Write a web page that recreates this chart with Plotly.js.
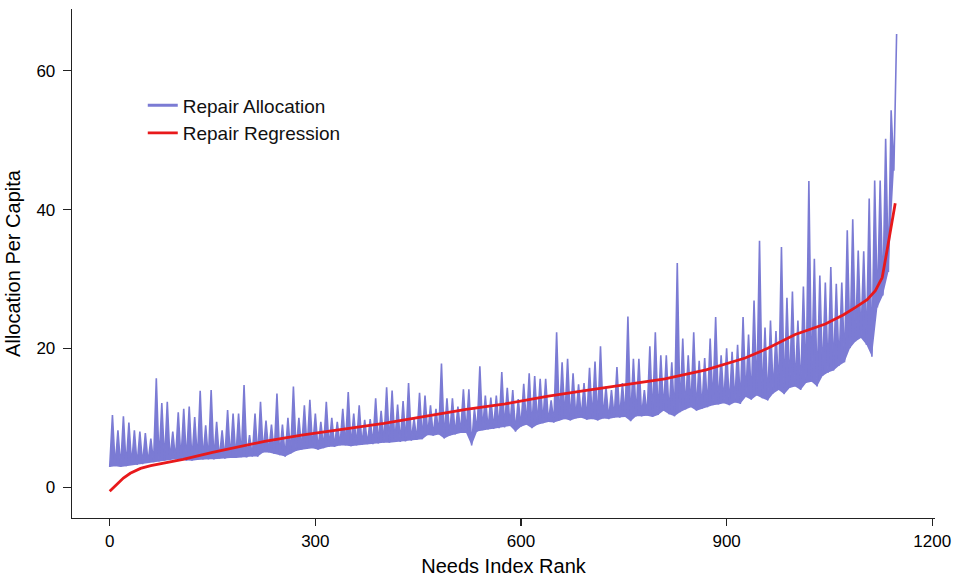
<!DOCTYPE html>
<html>
<head>
<meta charset="utf-8">
<script src="https://cdn.plot.ly/plotly-3.0.1.min.js"></script>
<style>html,body{margin:0;padding:0;background:#fff}#chart{width:958px;height:579px}</style>
</head>
<body>
<div id="chart"></div>
<script>
// Repair allocation per capita, read per block of 8 ranks: high and low values
var blockSize = 8;
var allocHigh = [10.4,8.2,10.2,9.3,8.2,8.0,7.8,7.0,15.7,12.1,12.3,8.0,10.8,11.3,11.6,10.1,13.9,8.9,14.0,9.4,
  8.2,11.1,10.6,10.6,14.7,7.5,10.6,12.3,9.6,9.0,13.5,9.0,10.0,14.5,10.0,11.8,12.6,10.6,9.4,12.3,
  10.0,9.4,11.3,13.7,10.6,11.8,9.7,9.8,12.8,11.0,14.4,13.9,11.9,12.4,15.0,9.9,13.6,13.2,11.8,11.3,
  17.8,12.8,12.8,11.6,14.1,14.1,11.3,17.4,13.2,12.9,13.2,16.6,14.3,14.0,12.7,14.9,16.4,16.0,15.6,15.6,
  12.5,22.3,18.0,18.5,16.4,14.8,15.0,17.2,18.1,20.3,14.5,14.0,17.3,15.0,24.6,18.5,18.5,14.0,20.3,22.3,
  19.0,19.0,18.0,32.3,21.4,19.0,22.3,18.2,18.6,21.4,24.5,19.0,20.0,19.5,20.5,24.5,22.0,26.9,35.5,23.0,
  24.0,22.5,34.6,27.3,28.2,24.0,28.9,44.1,32.9,30.5,29.5,31.7,29.3,29.5,37.0,38.6,34.1,34.0,41.6,44.2,
  44.2,50.2,54.3,65.3];
var allocLow = [2.9,3.0,2.9,3.0,3.2,3.2,3.3,3.5,3.6,3.7,3.8,3.9,4.0,3.9,3.8,3.8,3.9,4.0,4.0,4.0,
  4.1,4.1,4.2,4.2,4.3,4.3,4.4,4.4,5.0,5.0,4.8,4.6,4.4,4.8,5.2,5.4,5.5,5.6,5.4,5.6,
  5.8,5.8,6.0,6.0,5.9,6.0,6.1,6.2,6.2,6.3,6.4,6.4,6.5,6.5,6.6,6.7,6.8,6.9,7.5,7.4,
  7.6,7.0,7.4,7.6,7.8,7.8,6.0,8.0,8.2,8.3,8.4,8.5,8.6,8.8,8.0,8.7,9.0,8.5,9.0,9.2,
  9.4,9.3,9.6,9.8,9.6,9.9,10.0,9.7,9.8,9.6,9.9,9.8,10.0,10.0,10.1,9.5,10.2,10.2,10.3,10.1,
  10.4,11.0,10.5,10.2,10.8,11.2,11.5,11.0,11.3,11.5,11.8,11.9,12.1,11.8,12.2,12.0,13.0,12.6,13.2,12.8,
  12.5,13.5,14.0,13.4,14.3,14.5,14.0,15.0,15.2,14.5,16.0,16.5,16.8,17.5,18.0,20.0,21.0,21.5,20.5,18.8,
  25.9,27.6,31.0,45.6];

// Regression line read at these ranks
var regRank = [0,10,20,30,45,60,80,107,150,200,226,280,343,400,460,520,577,640,693,750,810,870,927,960,1000,1044,1070,1088,1105,1117,1127,1134,1141,1146];
var regVal  = [-0.6,0.3,1.3,2.0,2.7,3.1,3.5,4.0,5.0,6.0,6.6,7.5,8.4,9.2,10.2,11.2,12.0,13.1,13.9,14.7,15.6,16.9,18.6,20.0,22.0,23.5,24.8,25.9,27.0,28.3,30.2,34.1,38.0,40.9];

var xTicks = [0,300,600,900,1200];
var yTicks = [0,20,40,60];

var allocColor = '#7b7bd4';
var regColor = '#e8191b';

// lower envelope of the allocation band
var lx = [], ly = [];
// allocation line sweeping low/high of each block
var ax = [], ay = [];
for (var i = 0; i < allocLow.length; i++) {
  lx.push(i * blockSize); ly.push(allocLow[i]);
  ax.push(i * blockSize); ay.push(allocLow[i]);
  if (i < allocHigh.length) { ax.push(i * blockSize + blockSize / 2); ay.push(allocHigh[i]); }
}

var font = 'Liberation Sans, Arial, Helvetica, sans-serif';
var traces = [
  {x: lx, y: ly, type: 'scatter', mode: 'lines', showlegend: false, hoverinfo: 'skip',
   line: {color: allocColor, width: 0}},
  {x: ax, y: ay, type: 'scatter', mode: 'lines', name: 'Repair Allocation', showlegend: false,
   fill: 'tonexty', fillcolor: allocColor, line: {color: allocColor, width: 1.6}},
  {x: [null], y: [null], type: 'scatter', mode: 'lines', name: 'Repair Allocation',
   line: {color: allocColor, width: 3}},
  {x: regRank, y: regVal, type: 'scatter', mode: 'lines', name: 'Repair Regression',
   line: {color: regColor, width: 2.8}}
];
var layout = {
  width: 958, height: 579,
  margin: {l: 72, r: 23, t: 9, b: 61},
  paper_bgcolor: '#fff', plot_bgcolor: '#fff',
  font: {family: font, size: 17, color: '#000'},
  showlegend: true,
  legend: {x: 0.082, y: 0.848, xanchor: 'left', yanchor: 'top', bgcolor: 'rgba(0,0,0,0)',
           traceorder: 'normal',
           font: {family: font, size: 19, color: '#111'}, tracegroupgap: 0},
  xaxis: {range: [-55, 1204], tickvals: xTicks, ticktext: xTicks.map(String),
          showgrid: false, zeroline: false, showline: true, linecolor: '#222', linewidth: 1.3,
          ticks: 'outside', ticklen: 7, tickcolor: '#222', tickwidth: 1.2,
          tickfont: {family: font, size: 17, color: '#000'},
          title: {text: 'Needs Index Rank', font: {family: font, size: 20, color: '#000'}, standoff: 9}},
  yaxis: {range: [-4.45, 68.9], tickvals: yTicks, ticktext: yTicks.map(String),
          showgrid: false, zeroline: false, showline: true, linecolor: '#222', linewidth: 1.3,
          ticks: 'outside', ticklen: 8, tickcolor: '#222', tickwidth: 1.2, ticklabelstandoff: 4,
          tickfont: {family: font, size: 17, color: '#000'},
          title: {text: 'Allocation Per Capita', font: {family: font, size: 20, color: '#000'}, standoff: 10}}
};
Plotly.newPlot('chart', traces, layout, {displayModeBar: false, staticPlot: true});
</script>
</body>
</html>
